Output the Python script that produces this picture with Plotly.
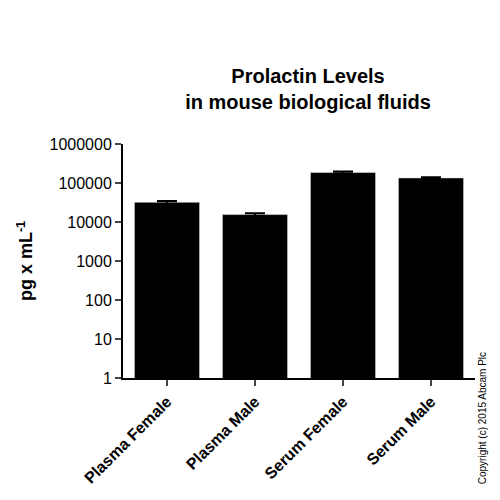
import plotly.graph_objects as go

categories = ["Plasma Female", "Plasma Male", "Serum Female", "Serum Male"]
values = [32000, 15500, 185000, 135000]
errors = [2500, 1200, 12000, 6000]
tick_vals = [1, 10, 100, 1000, 10000, 100000, 1000000]
tick_text = ["1", "10", "100", "1000", "10000", "100000", "1000000"]

fig = go.Figure(go.Bar(
    x=categories, y=values,
    marker=dict(color="black"),
    error_y=dict(type="data", array=errors, color="black", thickness=2, width=10),
))

fig.update_layout(
    width=500, height=500,
    plot_bgcolor="white", paper_bgcolor="white",
    font=dict(family="Liberation Sans, Arial", color="black"),
    title=dict(text="<b>Prolactin Levels<br>in mouse biological fluids</b>",
               x=0.6, xanchor="center", y=0.85, yanchor="middle", font=dict(size=20)),
    margin=dict(l=115, r=33, t=136, b=130),
    showlegend=False,
    bargap=0.26,
)
fig.update_xaxes(
    automargin=False,
    showline=True, linecolor="black", linewidth=2,
    ticks="outside", ticklen=6, tickwidth=2, tickangle=-45,
    tickfont=dict(size=16, family="Liberation Sans, Arial"),
    tickprefix="<b>", ticksuffix="</b>",
)
fig.update_yaxes(
    automargin=False,
    type="log", range=[0, 6], tickvals=tick_vals, ticktext=tick_text,
    showline=True, linecolor="black", linewidth=2, showgrid=False,
    ticks="outside", ticklen=6, tickwidth=2,
    tickfont=dict(size=16, family="Liberation Sans, Arial"),
    tickprefix="<b>", ticksuffix="</b>",
    title=dict(text="<b>pg x mL<sup>-1</sup></b>", font=dict(size=18), standoff=12),
)
fig.add_annotation(
    text="Copyright (c) 2015 Abcam Plc", textangle=-90,
    xref="paper", yref="paper", x=1.045, y=0.12, yanchor="top",
    showarrow=False, font=dict(size=10),
)

fig.write_html("out.html")
